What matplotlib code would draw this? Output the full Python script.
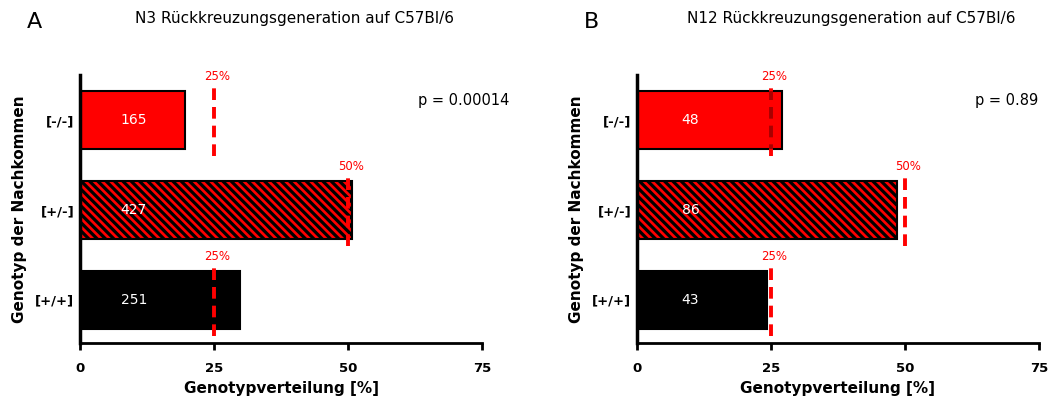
import matplotlib
matplotlib.use('Agg')
import matplotlib.pyplot as plt

# genotypes, bottom to top
categories = ['[+/+]', '[+/-]', '[-/-]']
expected = [25, 50, 25]

counts_n3 = [251, 427, 165]
pct_n3 = [29.8, 50.7, 19.6]
p_n3 = 'p = 0.00014'

counts_n12 = [43, 86, 48]
pct_n12 = [24.3, 48.6, 27.1]
p_n12 = 'p = 0.89'

titles = ['N3 Rückkreuzungsgeneration auf C57Bl/6',
          'N12 Rückkreuzungsgeneration auf C57Bl/6']
letters = ['A', 'B']

plt.rcParams['font.family'] = ['DejaVu Sans']
plt.rcParams['hatch.linewidth'] = 2.3
plt.rcParams['hatch.color'] = 'black'

fig = plt.figure(figsize=(10.56, 4.01), dpi=100)


def draw_panel(ax, pct, counts, pval):
    faces = ['black', 'red', 'red']
    hatches = ['', '\\\\\\\\', '']
    bars = ax.barh(range(len(categories)), pct, height=0.65,
                   color=faces, edgecolor='black', linewidth=1.5, zorder=2)
    for b, h in zip(bars, hatches):
        b.set_hatch(h)

    for i, (e, b) in enumerate(zip(expected, bars)):
        ax.plot([e, e], [i - 0.4, i + 0.4], color='red', lw=2.8,
                ls=(0, (3, 1.8)), zorder=3)
        if faces[i] == 'red' and not hatches[i]:
            dark, = ax.plot([e, e], [i - 0.4, i + 0.4], color='#a80000',
                            lw=2.8, ls=(0, (3, 1.8)), zorder=4)
            dark.set_clip_path(b)
        ax.text(e + 0.6, i + 0.41, f'{e}%', color='red', fontsize=8.5,
                ha='center', va='bottom', zorder=5)

    for i, n in enumerate(counts):
        ax.text(10, i, str(n), color='white', fontsize=10,
                ha='center', va='center', zorder=5)

    ax.text(0.84, 0.907, pval, transform=ax.transAxes, fontsize=10.5,
            ha='left', va='center')

    ax.set_xlim(0, 75)
    ax.set_ylim(-0.48, 2.5)
    ax.set_xticks([0, 25, 50, 75])
    ax.set_yticks(range(len(categories)))
    ax.set_yticklabels(categories)
    for lab in ax.get_xticklabels() + ax.get_yticklabels():
        lab.set_fontweight('bold')
        lab.set_fontsize(9.5)
    ax.tick_params(axis='x', length=5, width=2, pad=9)
    ax.tick_params(axis='y', length=0, pad=4)
    ax.spines['top'].set_visible(False)
    ax.spines['right'].set_visible(False)
    ax.spines['left'].set_linewidth(2.5)
    ax.spines['bottom'].set_linewidth(2)
    ax.set_xlabel('Genotypverteilung [%]', fontweight='bold', fontsize=11,
                  labelpad=4)
    ax.set_ylabel('Genotyp der Nachkommen', fontweight='bold', fontsize=11,
                  labelpad=6)


lefts = [0.0758, 0.603]
data = [(pct_n3, counts_n3, p_n3), (pct_n12, counts_n12, p_n12)]
for k in range(2):
    ax = fig.add_axes([lefts[k], 0.1446, 0.381, 0.668])
    draw_panel(ax, *data[k])
    fig.text(lefts[k] + 0.203, 0.955, titles[k], ha='center', va='center',
             fontsize=11)
    fig.text(lefts[k] - 0.043, 0.945, letters[k], ha='center', va='center',
             fontsize=16)

fig.savefig('out.png', dpi=100)
